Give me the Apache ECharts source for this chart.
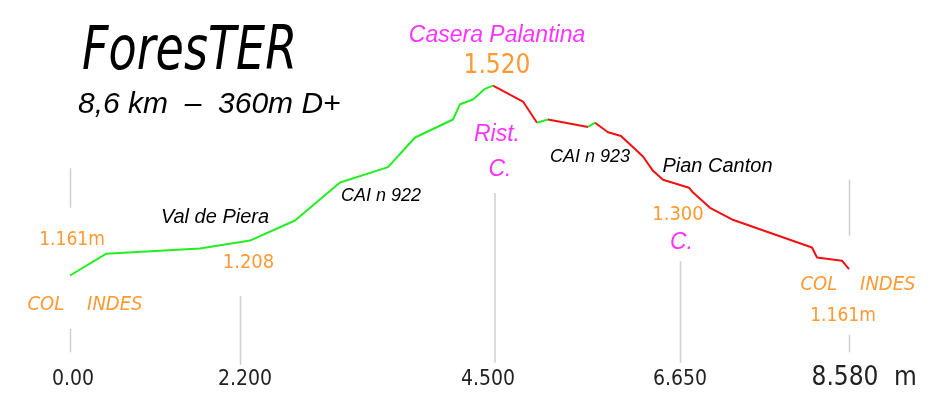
<!DOCTYPE html>
<html><head><meta charset="utf-8">
<script src="https://cdn.jsdelivr.net/npm/echarts@6/dist/echarts.min.js"></script>
<style>html,body{margin:0;padding:0;background:#fff}#c{width:949px;height:411px}</style>
</head><body><div id="c"></div>
<script>
// Profile: horizontal position along the drawing (units) and elevation (m)
const dist = [0, 36, 130, 180, 225, 270, 318, 345, 383, 390, 403, 415, 423, 453, 467, 478, 518, 525, 538, 551, 573, 583, 593, 619, 622, 640, 662, 742, 747, 772, 779];
const elev = [1161, 1202, 1212, 1227, 1265, 1337, 1366, 1422, 1456, 1485, 1494, 1514, 1520, 1490, 1450, 1456, 1442, 1450, 1432, 1425, 1386, 1359, 1342, 1327, 1320, 1289, 1267, 1214, 1195, 1189, 1173];

// Distance tick labels
const tickPos = [3, 175, 418, 610, 775];
const tickLabels = ['0.00', '2.200', '4.500', '6.650', '8.580'];

// Vertical guide segments: [position, elevation top, elevation bottom]
const guideSegs = [[0.5, 1364, 1289], [0.5, 1060, 1016], [170.5, 1122, 992], [425, 1317, 996], [610.5, 1188, 996], [779.5, 1342, 1236], [779.5, 1049, 1016]];

// Annotations
const annText = ['Casera Palantina', '1.520', 'Rist.', 'C.', 'CAI n 922', 'Val de Piera', '1.161m', '1.208', 'COL    INDES', 'CAI n 923', 'Pian Canton', '1.300', 'C.', 'COL    INDES', '1.161m'];
const annX    = [427, 427, 427, 430, 311, 145, 2, 178.5, 15, 520, 647.5, 608, 611.5, 788, 773];
const annElev = [1614, 1557, 1428, 1362, 1311, 1271, 1228, 1185, 1106, 1386, 1368, 1276, 1224, 1144, 1084];
const annKind = ['place', 'elevBig', 'place', 'place', 'route', 'routeL', 'elevS', 'elev', 'col', 'route', 'routeL', 'elev', 'place', 'col', 'elevS'];

const NARROW = "'DejaVu Sans Condensed', 'Liberation Sans', sans-serif";
const REG = "'Liberation Sans', Arial, sans-serif";
const ORANGE = '#ff9933', MAGENTA = '#ff33ff', INK = '#000000';
const kindStyle = {
  place:  { color: MAGENTA, fontSize: 23, fontStyle: 'italic', fontFamily: REG },
  elevBig:{ color: ORANGE, fontSize: 26, fontFamily: NARROW },
  elev:   { color: ORANGE, fontSize: 20, fontFamily: NARROW },
  elevS:  { color: ORANGE, fontSize: 19, fontFamily: NARROW },
  route:  { color: INK, fontSize: 18, fontStyle: 'italic', fontFamily: REG },
  routeL: { color: INK, fontSize: 20, fontStyle: 'italic', fontFamily: REG },
  col:    { color: ORANGE, fontSize: 20, fontStyle: 'italic', fontFamily: NARROW }
};

// Split profile into climbing (green) and descending (red) runs
const upData = [], downData = [];
let prevUp = null;
for (let i = 0; i < dist.length - 1; i++) {
  const up = elev[i + 1] > elev[i];
  const target = up ? upData : downData;
  if (prevUp !== up) {
    if (target.length) target.push([dist[i], null]);
    target.push([dist[i], elev[i]]);
  }
  target.push([dist[i + 1], elev[i + 1]]);
  prevUp = up;
}

const guideData = [];
guideSegs.forEach(g => { guideData.push([g[0], g[1]], [g[0], g[2]], [g[0], null]); });

const annData = annText.map((t, i) => ({
  value: [annX[i], annElev[i]], name: t,
  label: Object.assign({ show: true, position: 'inside', formatter: '{b}', textBorderWidth: 0 }, kindStyle[annKind[i]])
}));

const chart = echarts.init(document.getElementById('c'), null, { renderer: 'canvas' });
chart.setOption({
  animation: false,
  backgroundColor: '#ffffff',
  grid: { left: 70, right: 100, top: 43.4, bottom: 50.4 },
  xAxis: {
    type: 'value', min: 0, max: 779,
    axisLine: { show: false }, axisTick: { show: false }, splitLine: { show: false },
    name: 'm', nameLocation: 'end', nameGap: 45,
    nameTextStyle: { fontSize: 26, fontFamily: NARROW, color: '#222', verticalAlign: 'top', lineHeight: 22, padding: [7, 0, 0, 0] },
    axisLabel: {
      customValues: tickPos, margin: 8, fontSize: 21, fontFamily: NARROW, color: '#222',
      formatter: v => {
        const i = tickPos.indexOf(v);
        if (i === tickPos.length - 1) return '{big|' + tickLabels[i] + '}';
        return i >= 0 ? tickLabels[i] : '';
      },
      rich: { big: { fontSize: 26, fontFamily: NARROW, color: '#222', lineHeight: 20 } }
    }
  },
  yAxis: { type: 'value', min: 1000, max: 1600, show: false },
  graphic: [
    { type: 'text', left: 82, top: 23, scaleX: 0.755, style: { text: 'ForesTER', font: "italic 200 61px 'DejaVu Sans'", fill: INK } },
    { type: 'text', left: 78, top: 89.5, style: { text: '8,6 km  –  360m D+', font: "italic 30px " + REG, fill: INK } }
  ],
  series: [
    { type: 'line', data: guideData, symbol: 'none', silent: true, clip: false,
      lineStyle: { color: '#cfcfcf', width: 1.5 } },
    { type: 'line', data: downData, symbol: 'none', silent: true, clip: false,
      lineStyle: { color: '#f01010', width: 2 } },
    { type: 'line', data: upData, symbol: 'none', silent: true, clip: false,
      lineStyle: { color: '#22ee22', width: 2 } },
    { type: 'scatter', data: annData, symbolSize: 0, silent: true, clip: false, itemStyle: { opacity: 1 } }
  ]
});
</script></body></html>
